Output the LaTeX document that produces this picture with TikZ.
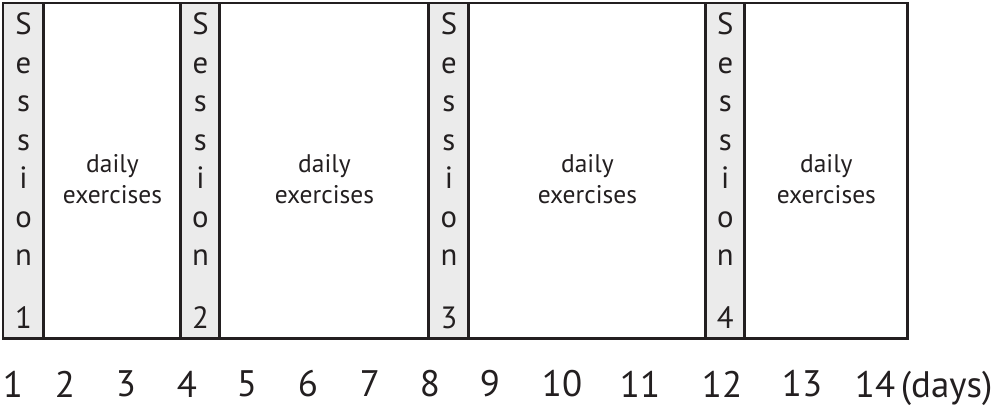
\documentclass[tikz,border=0pt]{standalone}
\usepackage{fontspec}
\setmainfont{PT Sans}
\usetikzlibrary{positioning}
\definecolor{lineDark}{HTML}{231F20}
\definecolor{sessGray}{HTML}{EBEBEB}
\tikzset{
  sessBox/.style={rectangle, draw=lineDark, fill=sessGray, line width=1.7pt,
                  outer sep=0pt, inner sep=0pt, minimum height=6.72cm, align=center,
                  text=lineDark, font=\fontsize{17.5}{21.9}\selectfont},
  dailyBox/.style={rectangle, draw=lineDark, fill=white, line width=1.7pt,
                   outer sep=0pt, inner sep=0pt, minimum height=6.72cm},
  dailyTxt/.style={align=center, text=lineDark, inner sep=0pt,
                   font=\fontsize{14.5}{17.6}\selectfont},
  dayLbl/.style={text=lineDark, inner sep=0pt, font=\fontsize{21}{24}\selectfont},
}
\begin{document}
\begin{tikzpicture}[x=0.02cm, y=-0.02cm]
    \useasboundingbox (0,0) rectangle (1000,408);
    \node[sessBox, minimum width=0.82cm, anchor=north west] (s1) at (3,3) {S\\e\\s\\s\\i\\o\\n\\[0.49cm]1};
    \node[dailyBox, minimum width=2.74cm, right=0pt of s1] (d1) {};
    \node[sessBox, minimum width=0.78cm, right=0pt of d1] (s2) {S\\e\\s\\s\\i\\o\\n\\[0.49cm]2};
    \node[dailyBox, minimum width=4.18cm, right=0pt of s2] (d2) {};
    \node[sessBox, minimum width=0.80cm, right=0pt of d2] (s3) {S\\e\\s\\s\\i\\o\\n\\[0.49cm]3};
    \node[dailyBox, minimum width=4.74cm, right=0pt of s3] (d3) {};
    \node[sessBox, minimum width=0.78cm, right=0pt of d3] (s4) {S\\e\\s\\s\\i\\o\\n\\[0.49cm]4};
    \node[dailyBox, minimum width=3.26cm, right=0pt of s4] (d4) {};
    \foreach \b in {d1,d2,d3,d4}
      \node[dailyTxt] (t-\b) at ([yshift=-0.16cm]\b.center) {daily\\exercises};
    % day scale
    \foreach \n/\x in {1/13, 2/65, 3/126, 4/187, 5/247, 6/308, 7/370, 8/430, 9/490,
                       10/562, 11/640, 12/722, 13/802, 14/875}
      \node[dayLbl] (day\n) at (\x,384) {\n};
    \node[dayLbl, anchor=base west] (unit) at ([xshift=0.1cm]day14.base east) {(days)};
\end{tikzpicture}
\end{document}
